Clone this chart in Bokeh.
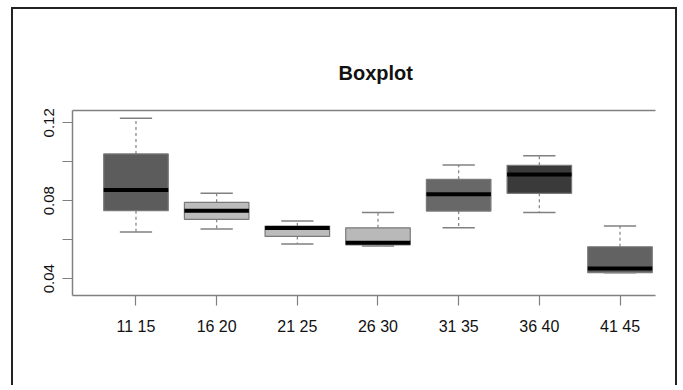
import math
from bokeh.plotting import figure
from bokeh.models import Range1d, FixedTicker, LinearAxis, ColumnDataSource
from bokeh.embed import file_html
from bokeh.resources import INLINE

# ---- data ----
categories = ["11 15", "16 20", "21 25", "26 30", "31 35", "36 40", "41 45"]
lower  = [0.0640, 0.0655, 0.0578, 0.0568, 0.0661, 0.0740, 0.0431]
q1     = [0.0749, 0.0705, 0.0617, 0.0574, 0.0747, 0.0838, 0.0431]
median = [0.0855, 0.0749, 0.0660, 0.0585, 0.0834, 0.0935, 0.0453]
q3     = [0.1040, 0.0792, 0.0670, 0.0661, 0.0910, 0.0982, 0.0564]
upper  = [0.1223, 0.0838, 0.0696, 0.0740, 0.0983, 0.1031, 0.0670]
y_ticks = [0.04, 0.06, 0.08, 0.10, 0.12]
y_tick_labels = ["0.04", "", "0.08", "", "0.12"]

# ---- styles ----
fill_colors = ["#5c5c5c", "#bcbcbc", "#bcbcbc", "#b9b9b9", "#686868", "#3a3a3a", "#626262"]
BOX_W = 0.8
CAP_W = 0.4
FONT = "Liberation Sans"
LINE_GRAY = "#808080"

pos = [i + 1 for i in range(len(categories))]
src = ColumnDataSource(dict(
    x=pos, lower=lower, q1=q1, median=median, q3=q3, upper=upper, color=fill_colors,
    x0=[x - BOX_W / 2 for x in pos], x1=[x + BOX_W / 2 for x in pos],
    c0=[x - CAP_W / 2 for x in pos], c1=[x + CAP_W / 2 for x in pos],
))

p = figure(
    width=666, height=378,
    x_range=Range1d(0.213, 7.44), y_range=Range1d(0.0314, 0.1263),
    min_border_left=59, min_border_right=24, min_border_top=101, min_border_bottom=92,
    output_backend="svg", toolbar_location=None,
    outline_line_color=None, background_fill_color="white", border_fill_color="white",
)
p.grid.visible = False
# outer frame of the picture (left, top and right edges)
p.styles = {
    "margin-left": "11px", "margin-top": "7px",
    "border-left": "2px solid #222222", "border-top": "2px solid #222222",
    "border-right": "2px solid #222222",
}

# whiskers
p.segment(x0="x", y0="q3", x1="x", y1="upper", source=src, line_color=LINE_GRAY,
          line_width=1.2, line_dash="3 3")
p.segment(x0="x", y0="q1", x1="x", y1="lower", source=src, line_color=LINE_GRAY,
          line_width=1.2, line_dash="3 3")
# boxes
p.vbar(x="x", width=BOX_W, bottom="q1", top="q3", source=src, fill_color="color",
       line_color="#7a7a7a", line_width=1.2)
# medians
p.segment(x0="x0", y0="median", x1="x1", y1="median", source=src, line_color="black",
          line_width=4)
# caps
p.segment(x0="c0", y0="upper", x1="c1", y1="upper", source=src, line_color=LINE_GRAY,
          line_width=1.5)
p.segment(x0="c0", y0="lower", x1="c1", y1="lower", source=src, line_color=LINE_GRAY,
          line_width=1.5)

# x axis
xa = p.xaxis[0]
xa.ticker = FixedTicker(ticks=pos)
xa.major_label_overrides = {x: c for x, c in zip(pos, categories)}
xa.minor_tick_line_color = None
xa.major_tick_in = 0
xa.major_tick_out = 10
xa.major_tick_line_color = LINE_GRAY
xa.major_tick_line_width = 1.2
xa.axis_line_color = LINE_GRAY
xa.axis_line_width = 1.5
xa.major_label_standoff = 12
xa.major_label_text_font = FONT
xa.major_label_text_font_size = "16px"
xa.major_label_text_color = "#111111"

# y axis
ya = p.yaxis[0]
ya.ticker = FixedTicker(ticks=y_ticks)
ya.major_label_overrides = {t: l for t, l in zip(y_ticks, y_tick_labels)}
ya.minor_tick_line_color = None
ya.major_tick_in = 0
ya.major_tick_out = 10
ya.major_tick_line_color = LINE_GRAY
ya.major_tick_line_width = 1.2
ya.axis_line_color = LINE_GRAY
ya.axis_line_width = 1.5
ya.major_label_orientation = "parallel"
ya.major_label_standoff = 8
ya.major_label_text_font = FONT
ya.major_label_text_font_size = "15px"
ya.major_label_text_color = "#111111"

# top line of the box
top_ax = LinearAxis(ticker=FixedTicker(ticks=[]), major_tick_line_color=None,
                    minor_tick_line_color=None, major_label_standoff=0,
                    axis_line_color=LINE_GRAY, axis_line_width=1.5)
p.add_layout(top_ax, "above")

# title
p.title.text = "Boxplot"
p.title.align = "left"
p.title.offset = 266
p.title.standoff = 53
p.title.text_font = FONT
p.title.text_font_size = "20px"
p.title.text_font_style = "bold"
p.title.text_color = "#111111"

open("out.html", "w").write(file_html(p, INLINE))
